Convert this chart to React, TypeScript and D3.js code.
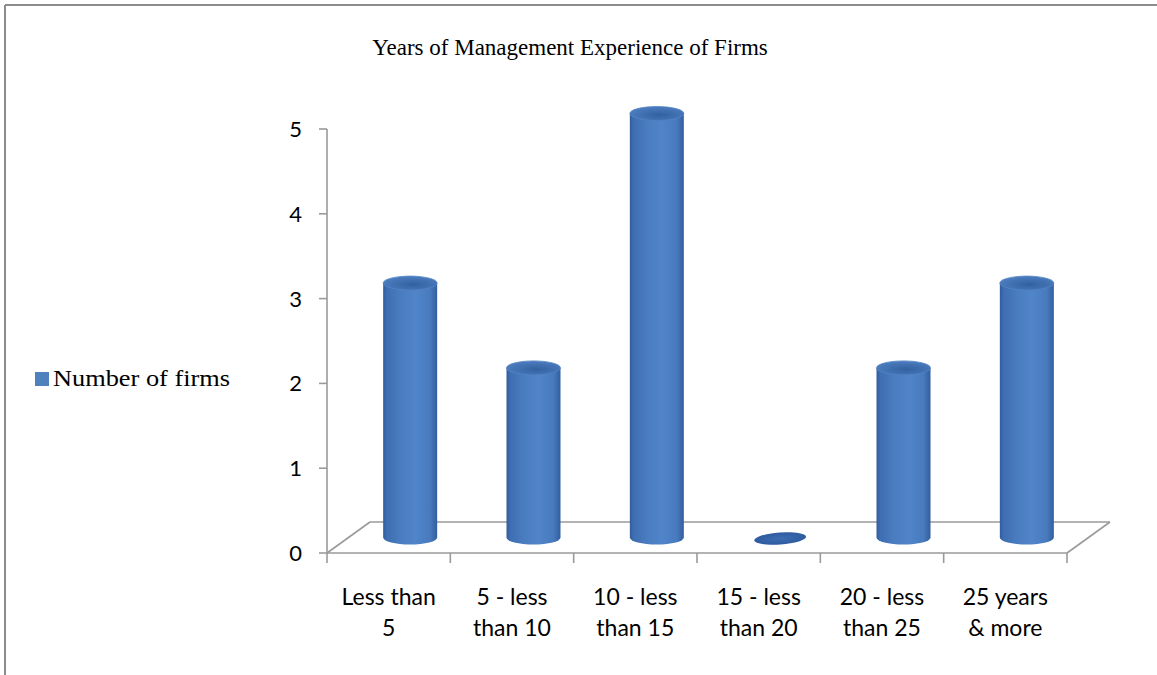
import React from "react";
import * as d3 from "d3";

const title = "Years of Management Experience of Firms";
const seriesName = "Number of firms";
const categories = [
  ["Less than", "5"],
  ["5 - less", "than 10"],
  ["10 - less", "than 15"],
  ["15 - less", "than 20"],
  ["20 - less", "than 25"],
  ["25 years", "& more"],
];
const values = [3, 2, 5, 0, 2, 3];
const yTicks = [0, 1, 2, 3, 4, 5];

const W = 1157;
const H = 675;
const X0 = 327;
const X1 = 1067;
const Y0 = 553;
const Y5 = 129;
const DX = 43; // floor depth offset
const DY = -31;

export default function App() {
  const keys = categories.map((c) => c.join(" "));
  const x = d3.scaleBand<string>().domain(keys).range([X0, X1]);
  const y = d3.scaleLinear().domain([0, 5]).range([Y0, Y5]);
  const rx = 27;
  const ry = 7;
  const gray = "#9a9a9a";
  const sans = "Lato, 'Open Sans', sans-serif";
  const serif = "'Liberation Serif', 'Times New Roman', serif";

  return (
    <svg width={W} height={H} style={{ position: "absolute", left: 0, top: 0, background: "#fff" }}>
      <defs>
        <linearGradient id="cyl" x1="0" x2="1" y1="0" y2="0">
          <stop offset="0" stopColor="#305c9c" />
          <stop offset="0.07" stopColor="#3f6eb2" />
          <stop offset="0.3" stopColor="#497bbf" />
          <stop offset="0.6" stopColor="#5085ca" />
          <stop offset="0.87" stopColor="#487abd" />
          <stop offset="1" stopColor="#325e9f" />
        </linearGradient>
        <radialGradient id="topg" cx="0.55" cy="0.6" r="0.6">
          <stop offset="0" stopColor="#32609f" />
          <stop offset="0.5" stopColor="#406fb0" />
          <stop offset="1" stopColor="#4c7dbf" />
        </radialGradient>
        <radialGradient id="zerog" cx="0.5" cy="0.5" r="0.6">
          <stop offset="0" stopColor="#3d6db2" />
          <stop offset="1" stopColor="#2c589b" />
        </radialGradient>
      </defs>
      {/* chart border */}
      <line x1={5} y1={5} x2={W} y2={5} stroke="#8c8c8c" strokeWidth={2} />
      <line x1={5} y1={5} x2={5} y2={H} stroke="#8c8c8c" strokeWidth={2} />

      {/* title */}
      <text x={570} y={55} textAnchor="middle" fontFamily={serif} fontSize={23} fill="#000">
        {title}
      </text>

      {/* legend */}
      <rect x={35} y={372} width={14} height={14} fill="#4f81bd" />
      <text x={53} y={386} fontFamily={serif} fontSize={23} textLength={177} lengthAdjust="spacingAndGlyphs" fill="#000">
        {seriesName}
      </text>

      {/* floor */}
      <g stroke={gray} strokeWidth={1.6} fill="none">
        <line x1={X0 + DX} y1={Y0 + DY} x2={X1 + DX} y2={Y0 + DY} />
        <line x1={X0} y1={Y0} x2={X0 + DX} y2={Y0 + DY} />
        <line x1={X1} y1={Y0} x2={X1 + DX} y2={Y0 + DY} />
        <line x1={X0} y1={Y0} x2={X1} y2={Y0} />
      </g>

      {/* axes */}
      <g stroke={gray} strokeWidth={1.6}>
        <line x1={X0} y1={y(5)} x2={X0} y2={Y0} />
        {yTicks.map((t) => (
          <line key={t} x1={X0 - 8} y1={y(t)} x2={X0} y2={y(t)} />
        ))}
        {keys.map((k) => (
          <line key={k} x1={x(k)!} y1={Y0} x2={x(k)!} y2={Y0 + 10} />
        ))}
        <line x1={X1} y1={Y0} x2={X1} y2={Y0 + 10} />
      </g>
      {yTicks.map((t) => (
        <text key={t} x={302} y={y(t) + 8} textAnchor="end" fontFamily={sans} fontSize={22} fill="#000">
          {t}
        </text>
      ))}

      {/* x labels */}
      {categories.map((c, i) => {
        const cx = x(keys[i])! + x.bandwidth() / 2;
        return (
          <text key={i} textAnchor="middle" fontFamily={sans} fontSize={23} fill="#000">
            <tspan x={cx} y={605}>{c[0]}</tspan>
            <tspan x={cx} y={636}>{c[1]}</tspan>
          </text>
        );
      })}

      {/* cylinders */}
      {values.map((v, i) => {
        const cx = x(keys[i])! + x.bandwidth() / 2 + DX / 2;
        const yb = y(0) + DY / 2;
        const yt = y(v) + DY / 2;
        if (v === 0) {
          return (
            <ellipse key={i} cx={cx} cy={yb + 1} rx={26} ry={6} fill="url(#zerog)" transform={`rotate(-4 ${cx} ${yb + 1})`} />
          );
        }
        const body = `M${cx - rx},${yt} L${cx - rx},${yb} A${rx},${ry} 0 0 0 ${cx + rx},${yb} L${cx + rx},${yt} Z`;
        return (
          <g key={i}>
            <path d={body} fill="url(#cyl)" />
            <ellipse cx={cx} cy={yt} rx={rx} ry={ry} fill="url(#topg)" stroke="#5083c5" strokeWidth={0.8} />
          </g>
        );
      })}
    </svg>
  );
}
